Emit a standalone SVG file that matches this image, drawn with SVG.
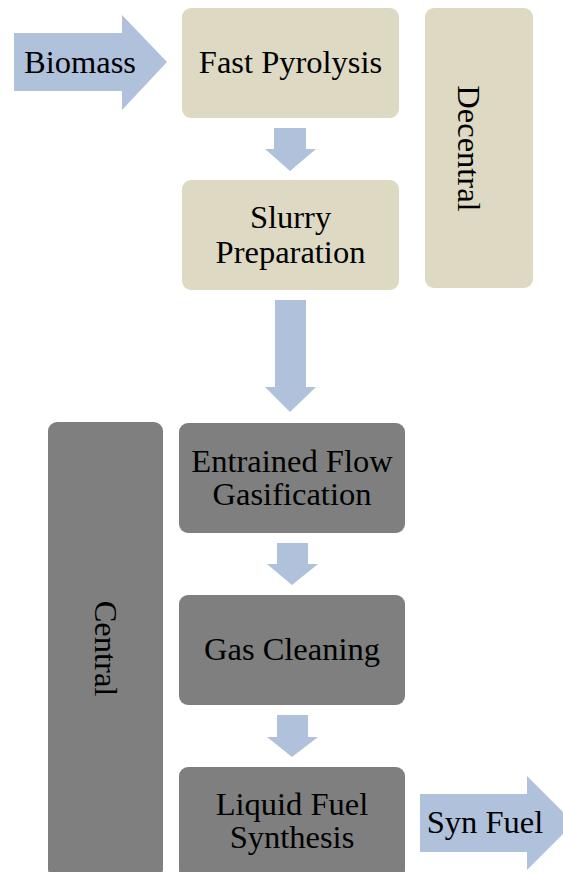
<svg xmlns="http://www.w3.org/2000/svg" width="563" height="872" viewBox="0 0 563 872">
<style>
.t{font-family:"Liberation Serif","Times New Roman",serif;font-size:32.5px;fill:#000;text-anchor:middle}
.de{fill:#ddd9c3}
.ce{fill:#7f7f7f}
.ar{fill:#b0c1dc}
</style>
<rect width="563" height="872" fill="#fff"/>
<g id="connectors">
<polygon class="ar" points="14,33 122,33 122,15 167,62 122,110 122,91 14,91"/>
<polygon class="ar" points="274,128 306,128 306,149 316,149 290,171 265,149 274,149"/>
<polygon class="ar" points="275,300 306,300 306,387 316,387 290,412 265,387 275,387"/>
<polygon class="ar" points="277,543 308,543 308,564 318,564 292,585 267,564 277,564"/>
<polygon class="ar" points="277,715 308,715 308,737 318,737 292,757 267,737 277,737"/>
<polygon class="ar" points="420,794 527,794 527,776 574,823 527,870 527,852 420,852"/>
</g>
<g id="biomass"><text class="t" x="80" y="73">Biomass</text></g>
<g id="synfuel"><text class="t" x="485" y="833">Syn Fuel</text></g>
<g id="decentral">
<rect class="de" x="425" y="8" width="108" height="280" rx="9"/>
<text class="t" transform="translate(458,148.5) rotate(90)">Decentral</text>
</g>
<g id="central">
<rect class="ce" x="48" y="422" width="115" height="456" rx="9"/>
<text class="t" transform="translate(95,648.5) rotate(90)">Central</text>
</g>
<g id="fast-pyrolysis">
<rect class="de" x="182" y="8" width="217" height="110" rx="9"/>
<text class="t" x="290.5" y="73">Fast Pyrolysis</text>
</g>
<g id="slurry">
<rect class="de" x="182" y="180" width="217" height="110" rx="9"/>
<text class="t" x="290.5" y="228">Slurry</text>
<text class="t" x="290.5" y="263">Preparation</text>
</g>
<g id="gasification">
<rect class="ce" x="179" y="423" width="226" height="110" rx="9"/>
<text class="t" x="292" y="472">Entrained Flow</text>
<text class="t" x="292" y="505">Gasification</text>
</g>
<g id="gas-cleaning">
<rect class="ce" x="179" y="595" width="226" height="110" rx="9"/>
<text class="t" x="292" y="660">Gas Cleaning</text>
</g>
<g id="synthesis">
<rect class="ce" x="179" y="767" width="226" height="112" rx="9"/>
<text class="t" x="292" y="815">Liquid Fuel</text>
<text class="t" x="292" y="848">Synthesis</text>
</g>
</svg>
